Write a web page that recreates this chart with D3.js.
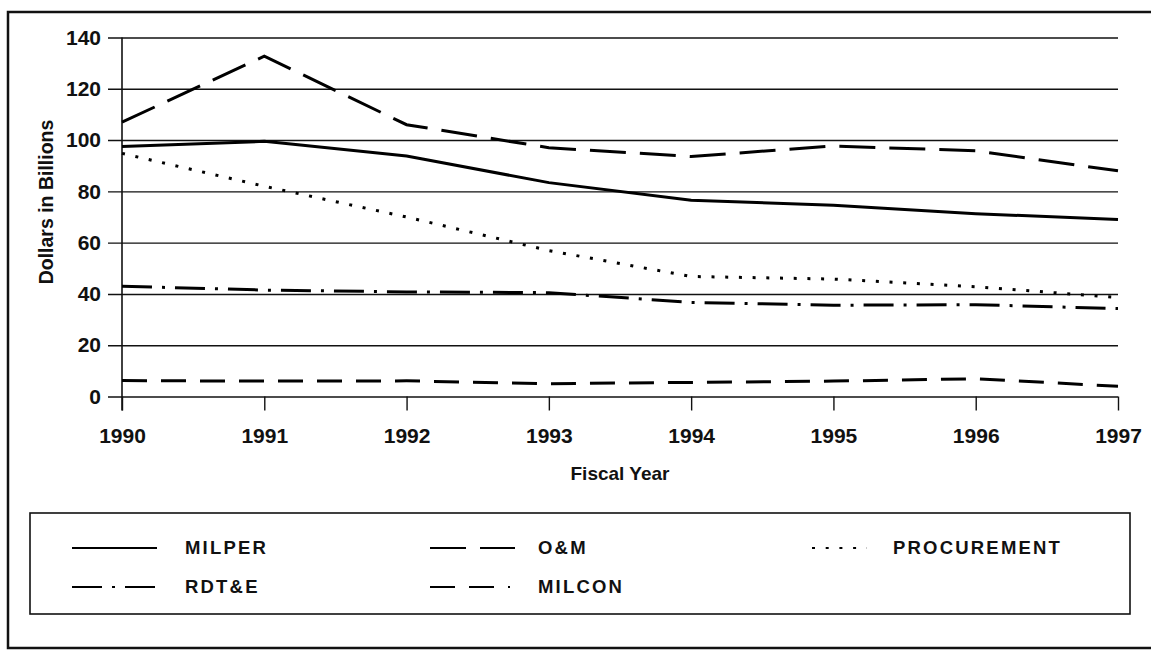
<!DOCTYPE html>
<html>
<head>
<meta charset="utf-8">
<script src="https://cdn.jsdelivr.net/npm/d3@7"></script>
<style>
  body { margin: 0; background: #fff; }
  svg { display: block; font-family: 'Liberation Sans', Arial, sans-serif; }
  .grid line { stroke: #111; stroke-width: 1.4; }
  .grid .domain { display: none; }
  .axis-label { font-weight: bold; fill: #111; }
  .tick text { font-weight: bold; fill: #111; }
  .series { fill: none; stroke: #000; stroke-width: 3; }
  .legend-label { font-weight: bold; font-size: 18.5px; letter-spacing: 2.2px; fill: #111; }
</style>
</head>
<body>
<div id="chart"></div>
<script>
// Fiscal years on the x axis
const years = [1990, 1991, 1992, 1993, 1994, 1995, 1996, 1997];

// Dollars in billions
const milper      = [97.5, 99.5, 93.8, 83.4, 76.5, 74.6, 71.3, 69.0];
const om          = [107.0, 132.7, 106.0, 97.0, 93.6, 97.7, 95.8, 88.0];
const procurement = [94.8, 82.0, 70.0, 56.9, 46.8, 45.8, 42.8, 38.6];
const rdte        = [43.0, 41.5, 40.8, 40.5, 36.7, 35.6, 35.8, 34.3];
const milcon      = [6.2, 6.0, 6.1, 5.0, 5.5, 6.0, 6.9, 4.0];

const seriesNames = ['MILPER', 'O&M', 'PROCUREMENT', 'RDT&E', 'MILCON'];
const seriesValues = [milper, om, procurement, rdte, milcon];

const yTicks = [0, 20, 40, 60, 80, 100, 120, 140];

class BudgetLines {

  constructor(_config, _data) {
    this.config = {
      parentElement: _config.parentElement,
      containerWidth: 1151,
      containerHeight: 653,
      plot: {left: 122, right: 1118, top: 37.5, bottom: 396.5},
      tickLength: 14,
      // line styles per series, same order as seriesNames
      dashes: ['none', '36,14', '3,10.7', '30,10,3,10', '25,14'],
      legendBox: {x: 30, y: 513, width: 1100, height: 101},
      legendSlots: [
        {x: 72, y: 548, len: 85, tx: 185},
        {x: 430, y: 548, len: 85, tx: 538},
        {x: 812, y: 548, len: 55, tx: 893},
        {x: 72, y: 587, len: 85, tx: 185},
        {x: 430, y: 587, len: 80, tx: 538}
      ]
    };
    this.data = _data;
    this.initVis();
  }

  initVis() {
    let vis = this;
    const p = vis.config.plot;

    vis.svg = d3.select(vis.config.parentElement).append('svg')
        .attr('width', vis.config.containerWidth)
        .attr('height', vis.config.containerHeight);

    // Outer frame of the figure (right edge is cut off in the original)
    vis.svg.append('path')
        .attr('d', 'M1160,12 H8 V648 H1160')
        .attr('fill', 'none')
        .attr('stroke', '#111')
        .attr('stroke-width', 2.5);

    vis.xScale = d3.scaleLinear()
        .domain([d3.min(years), d3.max(years)])
        .range([p.left, p.right]);

    vis.yScale = d3.scaleLinear()
        .domain([0, 140])
        .range([p.bottom, p.top]);

    vis.line = d3.line()
        .x(d => vis.xScale(d.year))
        .y(d => vis.yScale(d.value));

    vis.renderVis();
    vis.renderLegend();
  }

  renderVis() {
    let vis = this;
    const p = vis.config.plot;
    const tl = vis.config.tickLength;

    // Horizontal gridlines drawn from the right edge, so the tick part
    // sticks out to the left of the y axis
    const yAxis = d3.axisLeft(vis.yScale)
        .tickValues(yTicks)
        .tickSize(p.right - p.left + tl)
        .tickPadding(7);

    vis.svg.append('g')
        .attr('class', 'grid y-axis')
        .attr('transform', `translate(${p.right},0)`)
        .call(yAxis)
        .call(g => g.selectAll('.tick text').style('font-size', '21px'));

    // Vertical y axis line
    vis.svg.append('line')
        .attr('x1', p.left).attr('x2', p.left)
        .attr('y1', p.top).attr('y2', p.bottom + tl)
        .attr('stroke', '#111').attr('stroke-width', 1.6);

    // X axis ticks hanging below the zero line
    const xAxis = d3.axisBottom(vis.xScale)
        .tickValues(years)
        .tickFormat(d3.format('d'))
        .tickSize(tl)
        .tickPadding(18);

    vis.svg.append('g')
        .attr('class', 'grid x-axis')
        .attr('transform', `translate(0,${p.bottom})`)
        .call(xAxis)
        .call(g => g.selectAll('.tick text').style('font-size', '21px'));

    // Axis titles
    vis.svg.append('text')
        .attr('class', 'axis-label')
        .attr('x', 620)
        .attr('y', 480)
        .attr('text-anchor', 'middle')
        .style('font-size', '19px')
        .text('Fiscal Year');

    vis.svg.append('text')
        .attr('class', 'axis-label')
        .attr('transform', 'translate(53,202) rotate(-90)')
        .attr('text-anchor', 'middle')
        .style('font-size', '19.5px')
        .text('Dollars in Billions');

    // Data lines
    const lineData = seriesNames.map((name, i) => ({
      name: name,
      dash: vis.config.dashes[i],
      points: years.map((y, j) => ({year: y, value: seriesValues[i][j]}))
    }));

    vis.svg.append('g').selectAll('.series')
        .data(lineData)
      .join('path')
        .attr('class', 'series')
        .attr('stroke-dasharray', d => d.dash)
        .attr('d', d => vis.line(d.points));
  }

  renderLegend() {
    const vis = this;
    const b = vis.config.legendBox;

    vis.legend = vis.svg.append('g').attr('class', 'legend');

    vis.legend.append('rect')
        .attr('x', b.x).attr('y', b.y)
        .attr('width', b.width).attr('height', b.height)
        .attr('fill', 'none')
        .attr('stroke', '#111')
        .attr('stroke-width', 1.6);

    const items = vis.legend.selectAll('.legend-item')
        .data(seriesNames)
      .join('g')
        .attr('class', 'legend-item');

    items.append('line')
        .attr('x1', (d, i) => vis.config.legendSlots[i].x)
        .attr('x2', (d, i) => vis.config.legendSlots[i].x + vis.config.legendSlots[i].len)
        .attr('y1', (d, i) => vis.config.legendSlots[i].y)
        .attr('y2', (d, i) => vis.config.legendSlots[i].y)
        .attr('stroke', '#000')
        .attr('stroke-width', 2)
        .attr('stroke-dasharray', (d, i) => vis.config.dashes[i]);

    items.append('text')
        .attr('class', 'legend-label')
        .attr('x', (d, i) => vis.config.legendSlots[i].tx)
        .attr('y', (d, i) => vis.config.legendSlots[i].y)
        .attr('dy', '0.35em')
        .text(d => d);
  }
}

new BudgetLines({parentElement: '#chart'}, seriesValues);
</script>
</body>
</html>
